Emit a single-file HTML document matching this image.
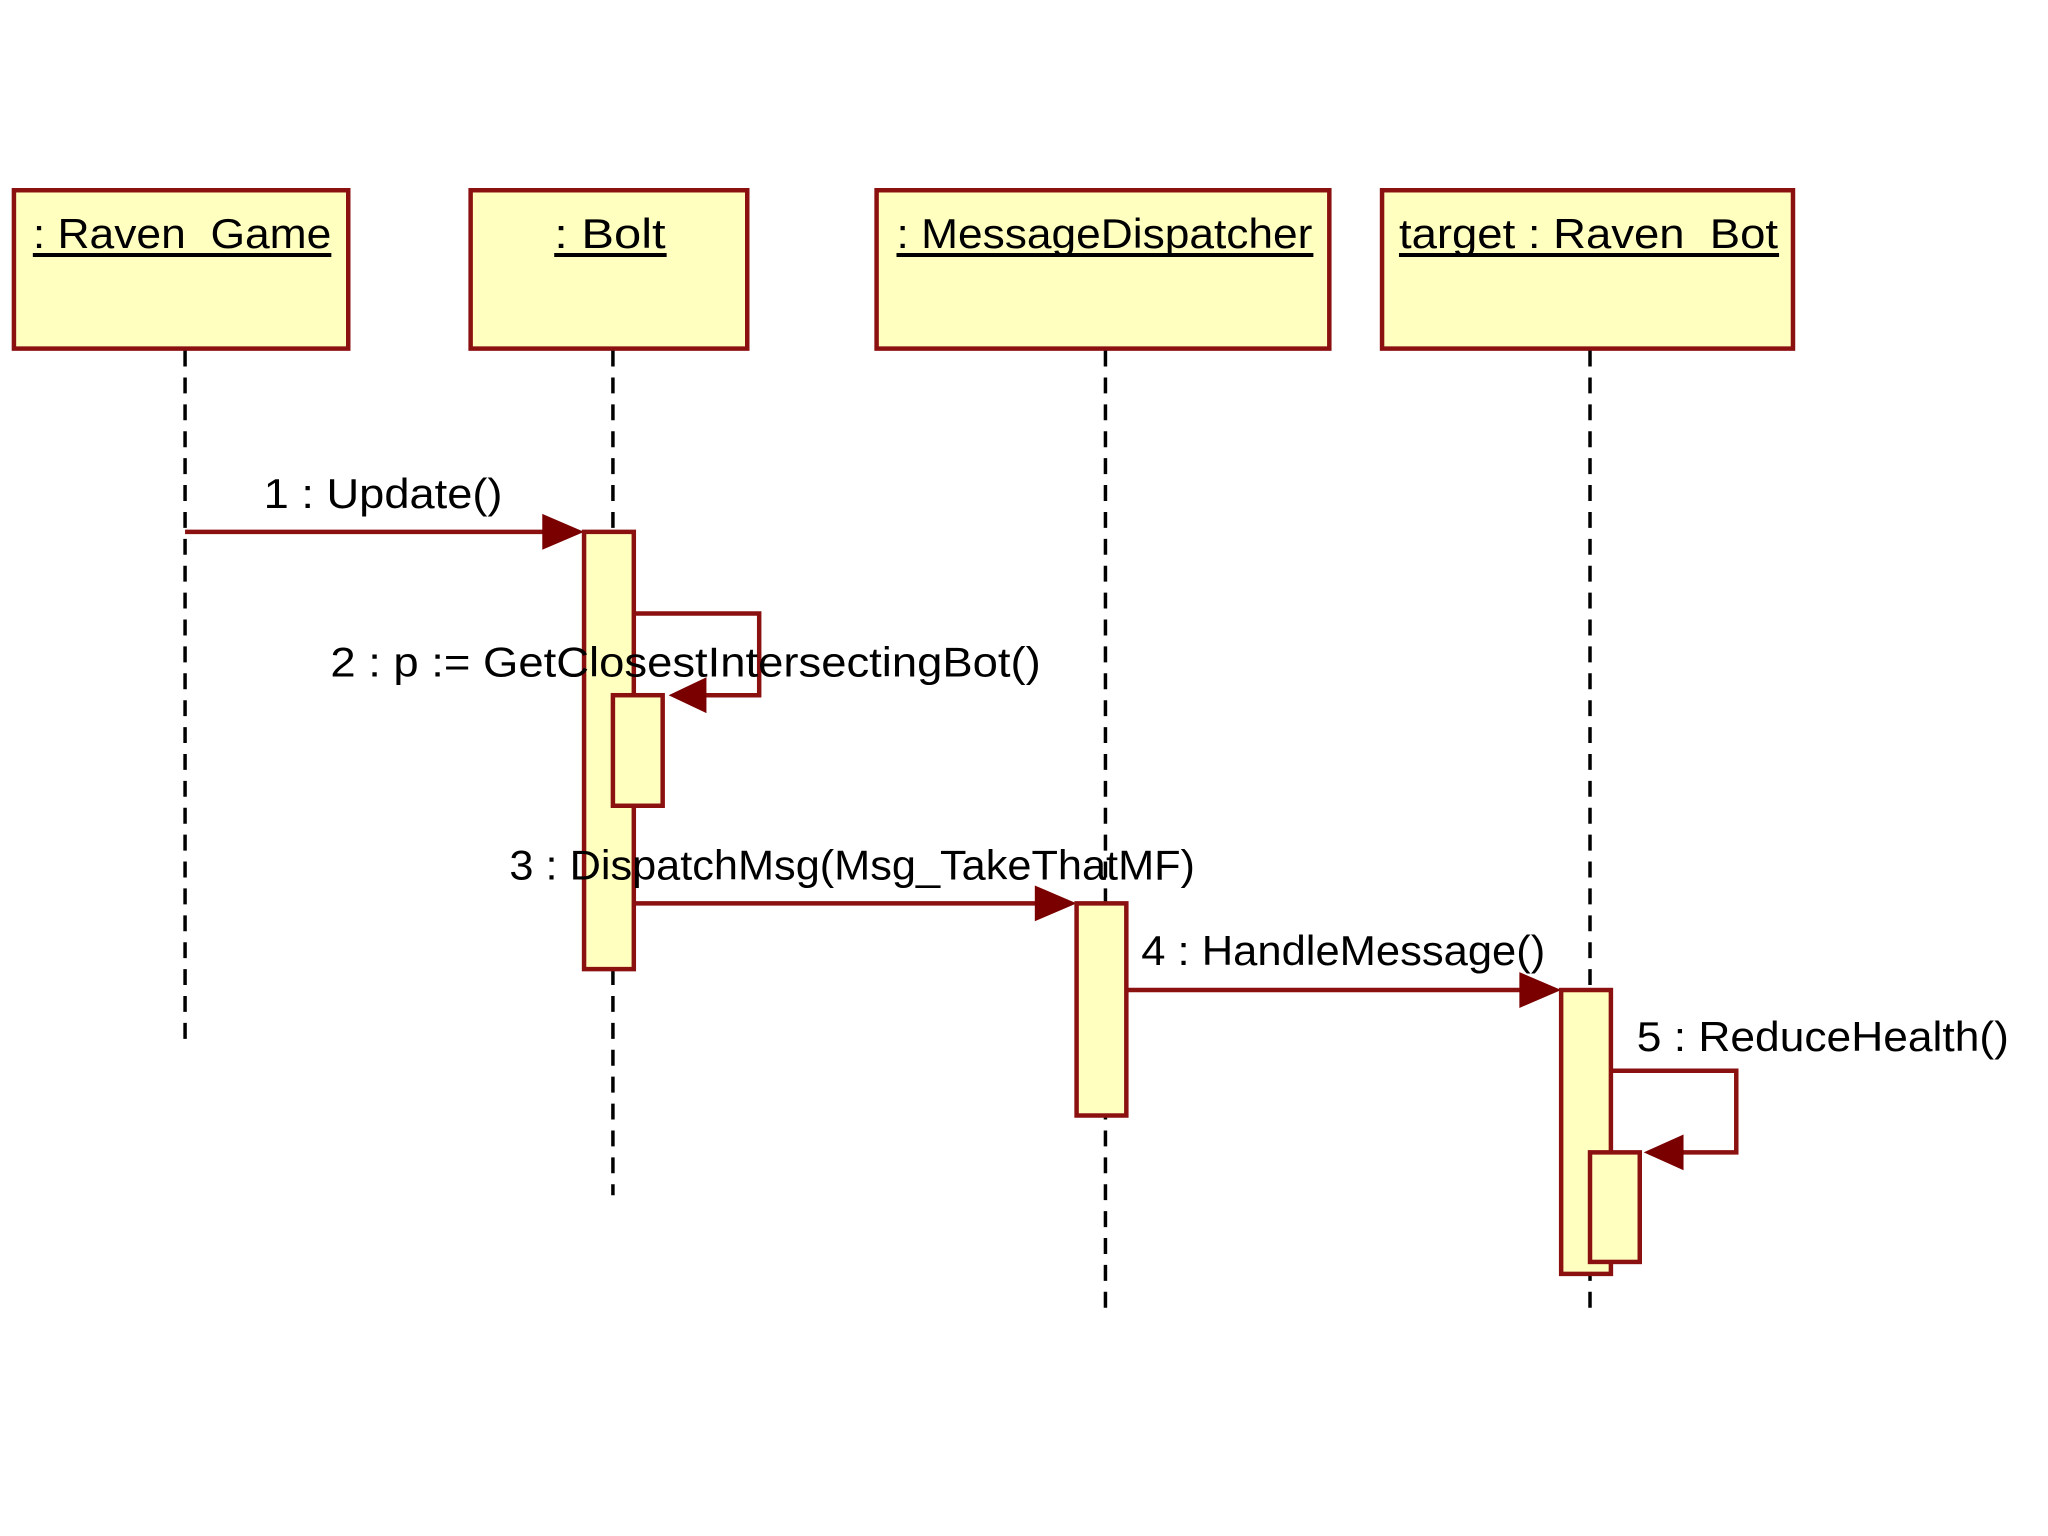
<!DOCTYPE html>
<html><head><style>html,body{margin:0;padding:0;background:#fff}svg{display:block}</style></head>
<body>
<svg width="2048" height="1536" viewBox="0 0 2048 1536" xmlns="http://www.w3.org/2000/svg" font-family="Liberation Sans, sans-serif" font-size="42">
<rect width="2048" height="1536" fill="#fff"/>
<g transform="scale(0.995,0.996)">
<g fill="#ffffc0" stroke="#8b1010" stroke-width="4.5">
<rect x="14" y="191" width="336" height="159"/>
<rect x="473" y="191" width="278" height="159"/>
<rect x="881" y="191" width="455" height="159"/>
<rect x="1389" y="191" width="413" height="159"/>
</g>
<g fill="#000">
<text x="33" y="249" textLength="300" lengthAdjust="spacingAndGlyphs">: Raven_Game</text>
<text x="557" y="249" textLength="112" lengthAdjust="spacingAndGlyphs">: Bolt</text>
<text x="901" y="249" textLength="418" lengthAdjust="spacingAndGlyphs">: MessageDispatcher</text>
<text x="1406" y="249" textLength="381" lengthAdjust="spacingAndGlyphs">target : Raven_Bot</text>
</g>
<g stroke="#000" stroke-width="4">
<line x1="33" y1="256" x2="333" y2="256"/>
<line x1="557" y1="256" x2="670" y2="256"/>
<line x1="901" y1="256" x2="1320" y2="256"/>
<line x1="1406" y1="256" x2="1788" y2="256"/>
</g>
<g stroke="#000" stroke-width="3.5" stroke-dasharray="16,11">
<line x1="186" y1="352" x2="186" y2="1052"/>
<line x1="616" y1="352" x2="616" y2="1200"/>
<line x1="1111" y1="352" x2="1111" y2="1318"/>
<line x1="1598" y1="352" x2="1598" y2="1318"/>
</g>
<g stroke="#8b1010" stroke-width="4.5" fill="none">
<line x1="186" y1="534" x2="560" y2="534"/>
<polyline points="637,616 763,616 763,698 700,698"/>
<line x1="637" y1="907" x2="1055" y2="907"/>
<line x1="1132" y1="994" x2="1542" y2="994"/>
<polyline points="1619,1075 1745,1075 1745,1157 1680,1157"/>
</g>
<g fill="#7a0000">
<polygon points="545,516 587,534 545,552"/>
<polygon points="710,680 672,698 710,716"/>
<polygon points="1040,889 1082,907 1040,925"/>
<polygon points="1527,976 1569,994 1527,1012"/>
<polygon points="1692,1139 1652,1157 1692,1175"/>
</g>
<g fill="#ffffc0" stroke="#8b1010" stroke-width="4.5">
<rect x="587" y="534" width="50" height="439"/>
<rect x="616" y="698" width="50" height="111"/>
<rect x="1082" y="907" width="50" height="213"/>
<rect x="1569" y="994" width="50" height="285"/>
<rect x="1598" y="1157" width="50" height="110"/>
</g>
<g fill="#000">
<text x="265" y="510" textLength="240" lengthAdjust="spacingAndGlyphs">1 : Update()</text>
<text x="332" y="679" textLength="714" lengthAdjust="spacingAndGlyphs">2 : p := GetClosestIntersectingBot()</text>
<text x="512" y="883" textLength="689" lengthAdjust="spacingAndGlyphs">3 : DispatchMsg(Msg_TakeThatMF)</text>
<text x="1147" y="969" textLength="406" lengthAdjust="spacingAndGlyphs">4 : HandleMessage()</text>
<text x="1645" y="1055" textLength="374" lengthAdjust="spacingAndGlyphs">5 : ReduceHealth()</text>
</g>
</g>
</svg>
</body></html>
